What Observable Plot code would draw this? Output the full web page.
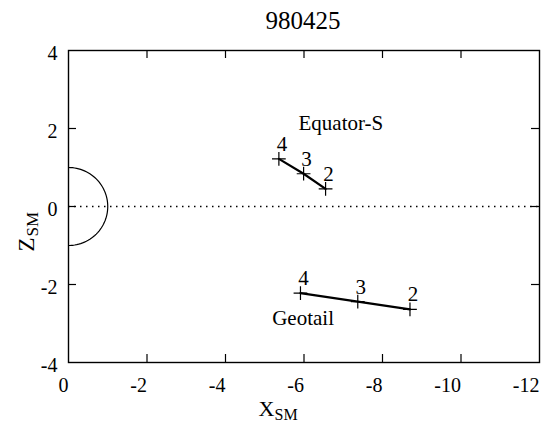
<!DOCTYPE html>
<html><head><meta charset="utf-8">
<script src="https://cdn.jsdelivr.net/npm/d3@7"></script>
<script src="https://cdn.jsdelivr.net/npm/@observablehq/plot@0.6"></script>
<style>
body{margin:0;background:#fff;}
#wrap{width:546px;height:422px;overflow:hidden;background:#fff;}
#title{font-family:"Liberation Serif","DejaVu Serif","Noto Serif","Times New Roman",Times,serif;font-size:25px;line-height:25px;height:38px;box-sizing:border-box;padding-top:8px;padding-left:60px;width:546px;text-align:center;color:#000;}
</style></head>
<body><div id="wrap"><div id="title"></div><div id="chart"></div></div>
<script>
// ---- data ----
const title = "980425";
const xTicks = [0, -2, -4, -6, -8, -10, -12];
const yTicks = [-4, -2, 0, 2, 4];
const xInnerTicks = [-2, -4, -6, -8, -10];
const yInnerTicks = [-2, 0, 2];

const eqX = [-5.36, -5.99, -6.55];
const eqY = [1.22, 0.84, 0.45];
const eqLabels = ["4", "3", "2"];

const geoX = [-5.91, -7.37, -8.70];
const geoY = [-2.22, -2.44, -2.64];
const geoLabels = ["4", "3", "2"];

const names = ["Equator-S", "Geotail"];
const nameX = [-5.86, -5.19];
const nameY = [1.97, -3.05];

const EARTH_RADIUS = 1;

// ---- build tables ----
const eq = eqX.map((x, i) => ({x, y: eqY[i], label: eqLabels[i]}));
const geo = geoX.map((x, i) => ({x, y: geoY[i], label: geoLabels[i]}));
const nameRows = names.map((n, i) => ({n, x: nameX[i], y: nameY[i]}));
const earth = d3.range(-90, 90.1, 3).map(a => {
  const t = a * Math.PI / 180;
  return {x: -EARTH_RADIUS * Math.cos(t), y: EARTH_RADIUS * Math.sin(t)};
});

document.getElementById("title").textContent = title;

const SERIF = '"Liberation Serif","DejaVu Serif","Noto Serif","Times New Roman",Times,serif';
const FW = 471, FH = 312, TL = 8;
const plot = Plot.plot({
  width: 546, height: 384,
  marginTop: 12, marginBottom: 60, marginLeft: 68, marginRight: 7,
  x: {domain: [0, -12]},
  y: {domain: [-4, 4]},
  style: {fontFamily: SERIF, fontSize: "20px", color: "black", background: "white"},
  marks: [
    Plot.ruleY([0], {stroke: "black", strokeWidth: 1.3, strokeDasharray: "1.5,4.5"}),
    Plot.line(earth, {x: "x", y: "y", stroke: "black", strokeWidth: 1.2}),
    Plot.line(eq, {x: "x", y: "y", stroke: "black", strokeWidth: 2.2}),
    Plot.dot(eq, {x: "x", y: "y", symbol: "plus", r: 4.5, stroke: "black", strokeWidth: 1.2}),
    Plot.text(eq, {x: "x", y: "y", text: "label", dx: 3, dy: -8, lineAnchor: "bottom", fontSize: 21, fontFamily: SERIF, fill: "black"}),
    Plot.line(geo, {x: "x", y: "y", stroke: "black", strokeWidth: 2.2}),
    Plot.dot(geo, {x: "x", y: "y", symbol: "plus", r: 4.5, stroke: "black", strokeWidth: 1.2}),
    Plot.text(geo, {x: "x", y: "y", text: "label", dx: 3, dy: -8, lineAnchor: "bottom", fontSize: 21, fontFamily: SERIF, fill: "black"}),
    Plot.text(nameRows, {x: "x", y: "y", text: "n", textAnchor: "start", lineAnchor: "bottom", fontSize: 21, fontFamily: SERIF, fill: "black"}),
    Plot.ruleX(xInnerTicks, {x: d => d, insetTop: FH - TL, stroke: "black", strokeWidth: 1.2}),
    Plot.ruleX(xInnerTicks, {x: d => d, insetBottom: FH - TL, stroke: "black", strokeWidth: 1.2}),
    Plot.ruleY(yInnerTicks, {y: d => d, insetRight: FW - TL, stroke: "black", strokeWidth: 1.2}),
    Plot.ruleY(yInnerTicks, {y: d => d, insetLeft: FW - TL, stroke: "black", strokeWidth: 1.2}),
    Plot.frame({stroke: "black", strokeWidth: 1.4}),
    Plot.axisX(xTicks, {anchor: "bottom", tickSize: 0, tickPadding: 15, textAnchor: "end", tickFormat: d => String(d), label: null, fontSize: 20, fontFamily: SERIF}),
    Plot.axisY(yTicks, {anchor: "left", tickSize: 0, tickPadding: 11, dy: 3, tickFormat: d => String(d), label: null, fontSize: 20, fontFamily: SERIF}),
    Plot.text(["X"], {frameAnchor: "bottom", text: d => d, textAnchor: "end", lineAnchor: "bottom", dx: -29.5, dy: 53, fontSize: 22, fontFamily: SERIF, fill: "black"}),
    Plot.text(["SM"], {frameAnchor: "bottom", text: d => d, textAnchor: "start", lineAnchor: "bottom", dx: -29.5, dy: 57, fontSize: 16, fontFamily: SERIF, fill: "black"}),
    Plot.text(["Z"], {frameAnchor: "left", text: d => d, rotate: -90, textAnchor: "start", lineAnchor: "bottom", dx: -35, dy: 45, fontSize: 23, fontFamily: SERIF, fill: "black"}),
    Plot.text(["SM"], {frameAnchor: "left", text: d => d, rotate: -90, textAnchor: "start", lineAnchor: "bottom", dx: -31, dy: 30, fontSize: 17, fontFamily: SERIF, fill: "black"})
  ]
});
document.getElementById("chart").appendChild(plot);
</script></body></html>
